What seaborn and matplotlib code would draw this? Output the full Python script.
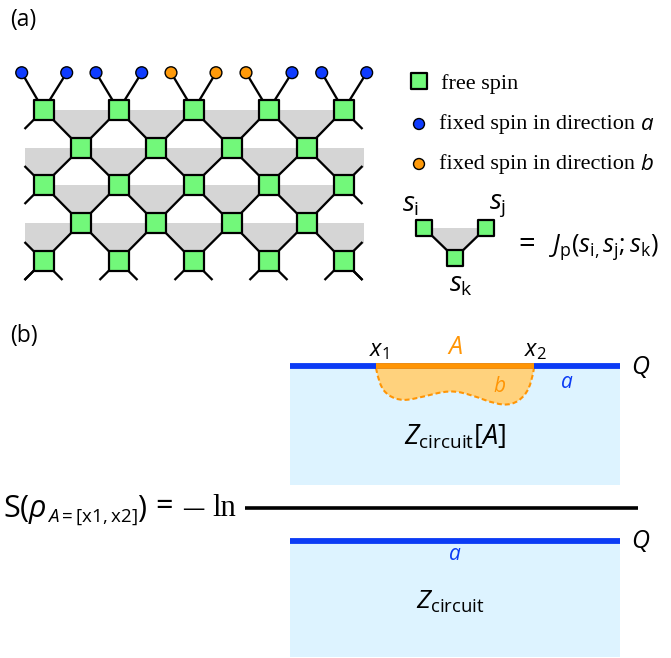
import numpy as np
import pandas as pd
import seaborn as sns
import matplotlib.pyplot as plt
from matplotlib.patches import PathPatch, Polygon, Rectangle
from matplotlib.path import Path

# lattice, in picture pixels
even_cols = [43.5, 118.5, 193.5, 268.5, 343.5]
odd_cols = [81, 156, 231.5, 306.5]
row_y = [110, 148, 185, 223, 261]
fixed_x = [21.7, 66.7, 96, 141.7, 171, 216, 246, 292, 321.7, 366.7]
fixed_dir = ['a', 'a', 'a', 'a', 'b', 'b', 'b', 'a', 'a', 'a']
fixed_y = 72.7

# boundary of the region b
curve_x = [376, 379, 388, 403, 422, 450, 472, 495, 512, 525, 532, 534]
curve_y = [368, 384, 396, 401, 397, 390, 395, 404, 405, 396, 381, 368]

BLUE = '#0B3BF5'
ORANGE = '#FF9505'
SPIN_BLUE = '#0F3CFF'
SPIN_ORANGE = '#FF9A0A'
GREEN = '#72F87A'
GRAY = '#D5D5D5'
SKY = '#DDF3FF'

sns.set_theme(style='white')
plt.rcParams['font.family'] = ['Open Sans', 'DejaVu Sans']
plt.rcParams['text.color'] = 'black'
plt.rcParams['mathtext.fontset'] = 'custom'
plt.rcParams['mathtext.rm'] = 'Open Sans'
plt.rcParams['mathtext.it'] = 'Open Sans:italic'
plt.rcParams['mathtext.bf'] = 'Open Sans:bold'

fig = plt.figure(figsize=(6.71, 6.58), dpi=100)
ax = fig.add_axes([0, 0, 1, 1])
ax.set_xlim(0, 671)
ax.set_ylim(658, 0)
ax.axis('off')


def spin_squares(xs, ys, size=215):
    pts = pd.DataFrame({'x': xs, 'y': ys})
    sns.scatterplot(data=pts, x='x', y='y', marker='s', s=size, color=GREEN,
                    edgecolor='black', linewidth=1.6, ax=ax, zorder=5, legend=False)


def spin_dots(xs, ys, dirs, size=72):
    pts = pd.DataFrame({'x': xs, 'y': ys, 'dir': dirs})
    sns.scatterplot(data=pts, x='x', y='y', hue='dir', palette={'a': SPIN_BLUE, 'b': SPIN_ORANGE},
                    hue_order=['a', 'b'], marker='o', s=size, edgecolor='black', linewidth=1.0,
                    ax=ax, zorder=5, legend=False)


def seg(p, q, lw=1.65):
    ax.plot([p[0], q[0]], [p[1], q[1]], color='black', lw=lw, zorder=3, solid_capstyle='butt')


# (a) gray plaquettes
left, right = 25, 364
for r in [0, 2]:
    top = row_y[r]
    bot = row_y[r + 1]
    for x0, x1, xm in zip(even_cols[:-1], even_cols[1:], odd_cols):
        ax.add_patch(Polygon([(x0, top), (x1, top), (xm, bot)], color=GRAY, lw=0, zorder=1))
for r in [1, 3]:
    top = row_y[r]
    bot = row_y[r + 1]
    for x0, x1, xm in zip(odd_cols[:-1], odd_cols[1:], even_cols[1:-1]):
        ax.add_patch(Polygon([(x0, top), (x1, top), (xm, bot)], color=GRAY, lw=0, zorder=1))
    ax.add_patch(Polygon([(left, top), (odd_cols[0], top), (even_cols[0], bot), (left, bot - 18)],
                         color=GRAY, lw=0, zorder=1))
    ax.add_patch(Polygon([(odd_cols[-1], top), (right, top), (right, bot - 18), (even_cols[-1], bot)],
                         color=GRAY, lw=0, zorder=1))

# (a) bonds
for r in range(4):
    upper, lower = (even_cols, odd_cols) if r % 2 == 0 else (odd_cols, even_cols)
    for xu in upper:
        for xl in lower:
            if abs(xu - xl) < 45:
                seg((xu, row_y[r]), (xl, row_y[r + 1]))
stub = 19
for y in row_y:
    if y in row_y[0::2]:
        if y != row_y[0]:
            seg((even_cols[0], y), (even_cols[0] - stub, y - stub))
            seg((even_cols[-1], y), (even_cols[-1] + stub, y - stub))
        seg((even_cols[0], y), (even_cols[0] - stub, y + stub))
        seg((even_cols[-1], y), (even_cols[-1] + stub, y + stub))
for xb in even_cols:
    seg((xb, row_y[-1]), (xb - stub, row_y[-1] + stub))
    seg((xb, row_y[-1]), (xb + stub, row_y[-1] + stub))
for i, xb in enumerate(even_cols):
    seg((xb, row_y[0]), (fixed_x[2 * i], fixed_y))
    seg((xb, row_y[0]), (fixed_x[2 * i + 1], fixed_y))

sq_x, sq_y = [], []
for r, y in enumerate(row_y):
    for x in (even_cols if r % 2 == 0 else odd_cols):
        sq_x.append(x)
        sq_y.append(y)
spin_squares(sq_x, sq_y)
spin_dots(fixed_x, [fixed_y] * len(fixed_x), fixed_dir)

ax.text(10, 20, '(a)', fontsize=16.5, va='center')
ax.text(10, 336, '(b)', fontsize=16.5, va='center')

# (a) legend
spin_squares([419], [81], size=145)
spin_dots([419, 419], [124, 164], ['a', 'b'], size=62)
serif = 'Liberation Serif'
ax.text(441, 84, 'free spin', family=serif, fontsize=16, va='center')
ax.text(439, 124, 'fixed spin in direction', family=serif, fontsize=16, va='center')
ax.text(640, 124, r'$a$', fontsize=16, va='center')
ax.text(439, 164, 'fixed spin in direction', family=serif, fontsize=16, va='center')
ax.text(640, 164, r'$b$', fontsize=16, va='center')

# (a) weight of one plaquette
v_x = [424, 486, 455]
v_y = [228, 228, 258]
ax.add_patch(Polygon(list(zip(v_x, v_y)), color=GRAY, lw=0, zorder=1))
seg((v_x[0], v_y[0]), (v_x[2], v_y[2]))
seg((v_x[1], v_y[1]), (v_x[2], v_y[2]))
spin_squares(v_x, v_y, size=145)
ax.text(402, 205, r'$s_{\mathrm{i}}$', fontsize=20, va='center')
ax.text(489, 205, r'$s_{\mathrm{j}}$', fontsize=20, va='center')
ax.text(449, 284, r'$s_{\mathrm{k}}$', fontsize=20, va='center')
ax.text(518, 245, '=', fontsize=21, va='center')
ax.text(549, 247, r'$J_{\mathrm{p}}(s_{\mathrm{i},}s_{\mathrm{j}};s_{\mathrm{k}})$', fontsize=18.3, va='center')

# (b) numerator
ax.add_patch(Rectangle((290, 367), 330, 118, color=SKY, lw=0, zorder=1))
ax.plot([290, 620], [366.3, 366.3], color=BLUE, lw=4.2, solid_capstyle='butt', zorder=3)

# quadratic pieces through the curve points
pts = np.column_stack([curve_x, curve_y])
verts = [tuple(pts[0])]
codes = [Path.MOVETO]
for i in range(1, len(pts) - 1):
    end = pts[i + 1] if i == len(pts) - 2 else (pts[i] + pts[i + 1]) / 2
    verts += [tuple(pts[i]), tuple(end)]
    codes += [Path.CURVE3, Path.CURVE3]
ax.add_patch(PathPatch(Path(verts, codes), facecolor='#FFD27D', edgecolor=ORANGE, lw=1.5,
                       linestyle=(0, (2.4, 1.4)), zorder=2))
ax.plot([376, 534], [366.3, 366.3], color=ORANGE, lw=4.2, solid_capstyle='butt', zorder=4)

ax.text(369, 350, r'$x_1$', fontsize=17, va='center')
ax.text(524, 350, r'$x_2$', fontsize=17, va='center')
ax.text(455, 348, r'$A$', fontsize=18, va='center', ha='center', color=ORANGE)
ax.text(631, 367, r'$Q$', fontsize=18, va='center')
ax.text(567, 382, r'$a$', fontsize=15, va='center', ha='center', color=BLUE)
ax.text(500, 387, r'$b$', fontsize=15, va='center', ha='center', color=ORANGE)
ax.text(404, 437, r'$Z_{\mathrm{circuit}}[A]$', fontsize=19.5, va='center')

# fraction bar and left side
ax.plot([245, 638], [507.8, 507.8], color='black', lw=2.6, solid_capstyle='butt', zorder=3)
ax.text(3, 510, r'$\mathrm{S}(\rho$', fontsize=22, va='center')
ax.text(47, 517, r'$A{=}[\mathrm{x}1,\mathrm{x}2]$', fontsize=13.5, va='center')
ax.text(137, 509, ')', fontsize=22, va='center')
ax.text(155, 507, '=', fontsize=22, va='center')
ax.text(182, 510, '\u2014', fontsize=16, va='center')
ax.text(212, 508, 'ln', family=serif, fontsize=22, va='center')

# (b) denominator
ax.add_patch(Rectangle((290, 541), 330, 116, color=SKY, lw=0, zorder=1))
ax.plot([290, 620], [541, 541], color=BLUE, lw=4.2, solid_capstyle='butt', zorder=3)
ax.text(631, 541, r'$Q$', fontsize=18, va='center')
ax.text(455, 555, r'$a$', fontsize=15, va='center', ha='center', color=BLUE)
ax.text(416, 602, r'$Z_{\mathrm{circuit}}$', fontsize=19, va='center')

fig.savefig('out.png', dpi=100, facecolor='white')
